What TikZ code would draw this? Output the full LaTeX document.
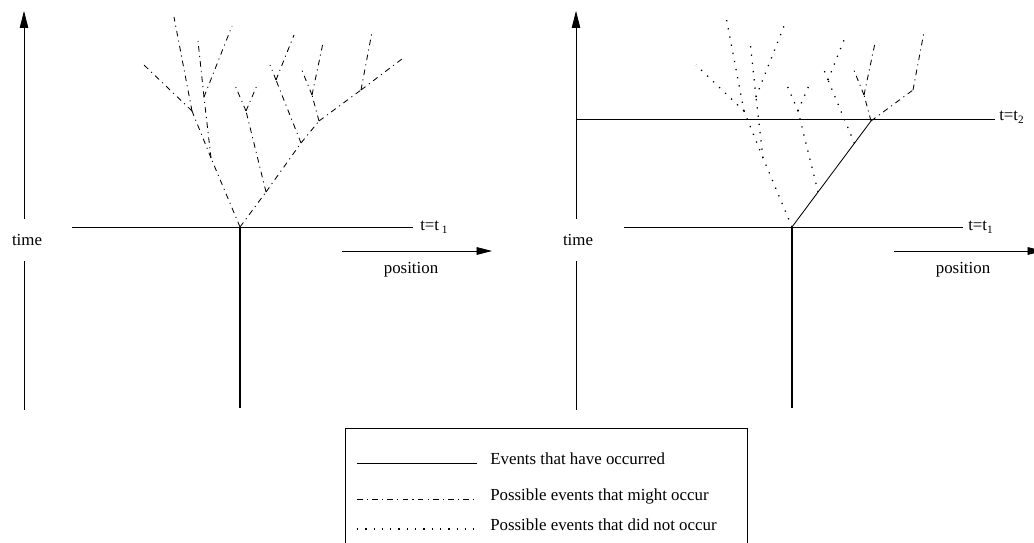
\documentclass[tikz,border=0pt]{standalone}
\usepackage{fontspec}
\setmainfont{Liberation Serif}
\usetikzlibrary{arrows.meta, positioning, calc}

\begin{document}
\begin{tikzpicture}[
    x=0.025cm, y=-0.025cm,
    every node/.style={font=\fontsize{12}{14}\selectfont, inner sep=0pt},
    timelabel/.style={inner ysep=11pt},
    axis/.style={line width=0.5pt},
    occurred/.style={line width=0.6pt},
    past/.style={line width=1.8pt},
    mightoccur/.style={line width=0.6pt, dash pattern=on 4pt off 3pt on 0.8pt off 3pt},
    didnotoccur/.style={line width=0.9pt, dash pattern=on 0.9pt off 5pt},
    timearrow/.style={-{Triangle[length=12pt,width=6pt]}},
    posarrow/.style={-{Triangle[length=11pt,width=5.5pt]}}
]
    \useasboundingbox (0,0) rectangle (1034,543);

    % ---------- left picture: at t = t1 ----------
    % time axis, split round its label
    \node[timelabel] (timeL) at (27,240) {time};
    \coordinate (botL) at (24,410);
    \coordinate (topL) at (24,11);
    \draw[axis] (botL) -- (botL |- timeL.south);
    \draw[axis, timearrow] (topL |- timeL.north) -- (topL);

    % the line t = t1
    \coordinate (t1La) at (72,227);
    \coordinate (t1Lb) at (413,227);
    \draw[occurred] (t1La) -- (t1Lb);
    \node[anchor=base west] (t1L) at (420,231) {t=t\,\textsubscript{1}};

    % position axis
    \coordinate (posLa) at (342,251);
    \coordinate (posLb) at (492,251);
    \draw[occurred, posarrow] (posLa) -- (posLb);
    \node[anchor=base] (posL) at (411,274) {position};

    % tree of events
    \coordinate (rootL) at (240,227);
    \coordinate (pastL) at (240,408);
    \coordinate (cL) at (211,158);
    \coordinate (aL) at (192,111);
    \coordinate (a1L) at (144,65);
    \coordinate (a2L) at (174,17);
    \coordinate (bL) at (204,97);
    \coordinate (b1L) at (198,41);
    \coordinate (b2L) at (232,26);
    \coordinate (dL) at (266,192);
    \coordinate (eL) at (246,111);
    \coordinate (e1L) at (234,83);
    \coordinate (e2L) at (258,83);
    \coordinate (fL) at (301,143);
    \coordinate (gL) at (276,80);
    \coordinate (g1L) at (270,65);
    \coordinate (g2L) at (294,35);
    \coordinate (hL) at (319,121);
    \coordinate (iL) at (312,95);
    \coordinate (i1L) at (301,68);
    \coordinate (i2L) at (323,43);
    \coordinate (jL) at (361,90);
    \coordinate (j1L) at (372,32);
    \coordinate (j2L) at (402,59);

    \draw[past] (rootL) -- (pastL);
    \path[mightoccur]
        (rootL) edge (cL) (cL) edge (aL) (cL) edge (bL)
        (aL) edge (a1L) (aL) edge (a2L)
        (bL) edge (b1L) (bL) edge (b2L)
        (rootL) edge (dL) (dL) edge (eL) (dL) edge (fL)
        (eL) edge (e1L) (eL) edge (e2L)
        (fL) edge (gL) (fL) edge (hL)
        (gL) edge (g1L) (gL) edge (g2L)
        (hL) edge (iL) (hL) edge (jL)
        (iL) edge (i1L) (iL) edge (i2L)
        (jL) edge (j1L) (jL) edge (j2L);

    % ---------- right picture: at t = t2 ----------
    \node[timelabel] (timeR) at (578,240) {time};
    \coordinate (botR) at (576,410);
    \coordinate (topR) at (576,11);
    \draw[axis] (botR) -- (botR |- timeR.south);
    \draw[axis, timearrow] (topR |- timeR.north) -- (topR);

    % the lines t = t1 and t = t2
    \coordinate (t1Ra) at (624,227);
    \coordinate (t1Rb) at (963,227);
    \draw[occurred] (t1Ra) -- (t1Rb);
    \node[anchor=base west] (t1R) at (968,231) {t=t\textsubscript{1}};
    \coordinate (t2Ra) at (577,119);
    \coordinate (t2Rb) at (995,119);
    \draw[occurred] (t2Ra) -- (t2Rb);
    \node[anchor=base west] (t2R) at (999,121) {t=t\textsubscript{2}};

    % position axis (its head runs off the page)
    \coordinate (posRa) at (894,251);
    \coordinate (posRb) at (1043,251);
    \draw[occurred, posarrow] (posRa) -- (posRb);
    \node[anchor=base] (posR) at (963,274) {position};

    % tree of events
    \coordinate (rootR) at (792,227);
    \coordinate (pastR) at (792,408);
    \coordinate (hR) at (871,121);
    \coordinate (dR) at ($(rootR)!0.33!(hR)$);
    \coordinate (fR) at ($(rootR)!0.79!(hR)$);
    \coordinate (cR) at (763,158);
    \coordinate (aR) at (744,111);
    \coordinate (a1R) at (696,65);
    \coordinate (a2R) at (726,17);
    \coordinate (bR) at (756,97);
    \coordinate (b1R) at (750,41);
    \coordinate (b2R) at (784,26);
    \coordinate (eR) at (798,111);
    \coordinate (e1R) at (786,83);
    \coordinate (e2R) at (810,83);
    \coordinate (gR) at (828,80);
    \coordinate (g1R) at (822,65);
    \coordinate (g2R) at (846,35);
    \coordinate (iR) at (864,95);
    \coordinate (i1R) at (853,68);
    \coordinate (i2R) at (875,43);
    \coordinate (jR) at (913,90);
    \coordinate (j1R) at (924,32);

    \draw[past] (rootR) -- (pastR);
    \draw[occurred] (rootR) -- (hR);
    \path[didnotoccur]
        (rootR) edge (cR) (cR) edge (aR) (cR) edge (bR)
        (aR) edge (a1R) (aR) edge (a2R)
        (bR) edge (b1R) (bR) edge (b2R)
        (dR) edge (eR)
        (eR) edge (e1R) (eR) edge (e2R)
        (fR) edge (gR)
        (gR) edge (g1R) (gR) edge (g2R);
    \path[mightoccur]
        (hR) edge (iR) (hR) edge (jR)
        (iR) edge (i1R) (iR) edge (i2R)
        (jR) edge (j1R);

    % ---------- legend ----------
    \draw[axis] (345,543) -- (345,428) -- (747,428) -- (747,543);
    \coordinate (keyAa) at (357,463);
    \coordinate (keyAb) at (477,463);
    \coordinate (keyBa) at (357,499);
    \coordinate (keyBb) at (477,499);
    \coordinate (keyCa) at (357,529);
    \coordinate (keyCb) at (477,529);
    \draw[occurred] (keyAa) -- (keyAb);
    \draw[mightoccur] (keyBa) -- (keyBb);
    \draw[didnotoccur] (keyCa) -- (keyCb);
    \node[anchor=base west] (keyA) at (490,465) {Events that have occurred};
    \node[anchor=base west] (keyB) at (490,501) {Possible events that might occur};
    \node[anchor=base west] (keyC) at (490,531) {Possible events that did not occur};
\end{tikzpicture}
\end{document}
